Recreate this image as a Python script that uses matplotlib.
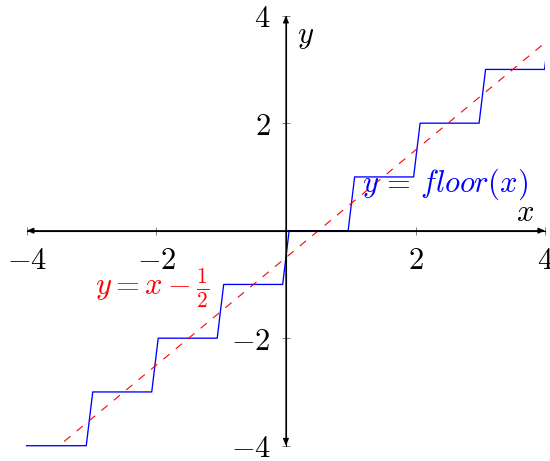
import matplotlib
matplotlib.use('Agg')
import matplotlib.pyplot as plt
from matplotlib.patches import Rectangle

plt.rcParams['mathtext.fontset'] = 'cm'
plt.rcParams['lines.scale_dashes'] = False

levels = [-4, -3, -2, -1, 0, 1, 2, 3, 4]
level_start = [-4.0, -2.98, -1.97, -0.96, 0.05, 1.06, 2.07, 3.08, 4.09]
level_end = [-3.08, -2.07, -1.06, -0.05, 0.96, 1.97, 2.98, 3.99, 4.09]

## y = x - 1/2
line_x = [-4.0, 4.0]
line_y = [-4.5, 3.5]

ticks = [-4, -2, 2, 4]
tick_labels = [r'$-4$', r'$-2$', r'$2$', r'$4$']

step_x, step_y = [], []
for a, b, lv in zip(level_start, level_end, levels):
    step_x += [a, b]
    step_y += [lv, lv]

fig = plt.figure(figsize=(5.5, 4.61), dpi=100)
ax = fig.add_axes([0.0484, 0.0332, 0.9429, 0.9328])
ax.set_xlim(-4, 4)
ax.set_ylim(-4, 4)

blue, = ax.plot(step_x, step_y, color='blue', lw=0.95)
blue.set_clip_path(Rectangle((-4.5, -4.5), 8.5, 9, transform=ax.transData))

red, = ax.plot(line_x, line_y, color='red', lw=0.8, dashes=(5.8, 5.8))
red.set_clip_path(Rectangle((-4.5, -4.0), 8.5, 8.5, transform=ax.transData))

## axis lines through the origin
for s in ['top', 'right']:
    ax.spines[s].set_visible(False)
for s in ['left', 'bottom']:
    ax.spines[s].set_position(('data', 0))
    ax.spines[s].set_linewidth(0.8)

ax.set_xticks(ticks, tick_labels)
ax.set_yticks(ticks, tick_labels)
ax.tick_params(direction='inout', length=5.8, width=0.7, color='gray', labelsize=22, pad=8)

arr = dict(arrowstyle='<|-|>,head_length=0.6,head_width=0.25', color='black', lw=0.8,
           shrinkA=0, shrinkB=0, mutation_scale=7)
ax.annotate('', xy=(4, 0), xytext=(-4, 0), arrowprops=arr, annotation_clip=False)
ax.annotate('', xy=(0, 4), xytext=(0, -4), arrowprops=arr, annotation_clip=False)

ax.text(3.69, 0.34, r'$x$', fontsize=22, ha='center', va='center')
ax.text(0.31, 3.62, r'$y$', fontsize=22, ha='center', va='center')
ax.text(1.17, 0.87, r'$y\,=\,floor(x)$', color='blue', fontsize=22, ha='left', va='center')
ax.text(-2.06, -1.07, r'$y = x - \frac{1}{2}$', color='red', fontsize=22, ha='center', va='center')

plt.savefig('out.png')
plt.close()
